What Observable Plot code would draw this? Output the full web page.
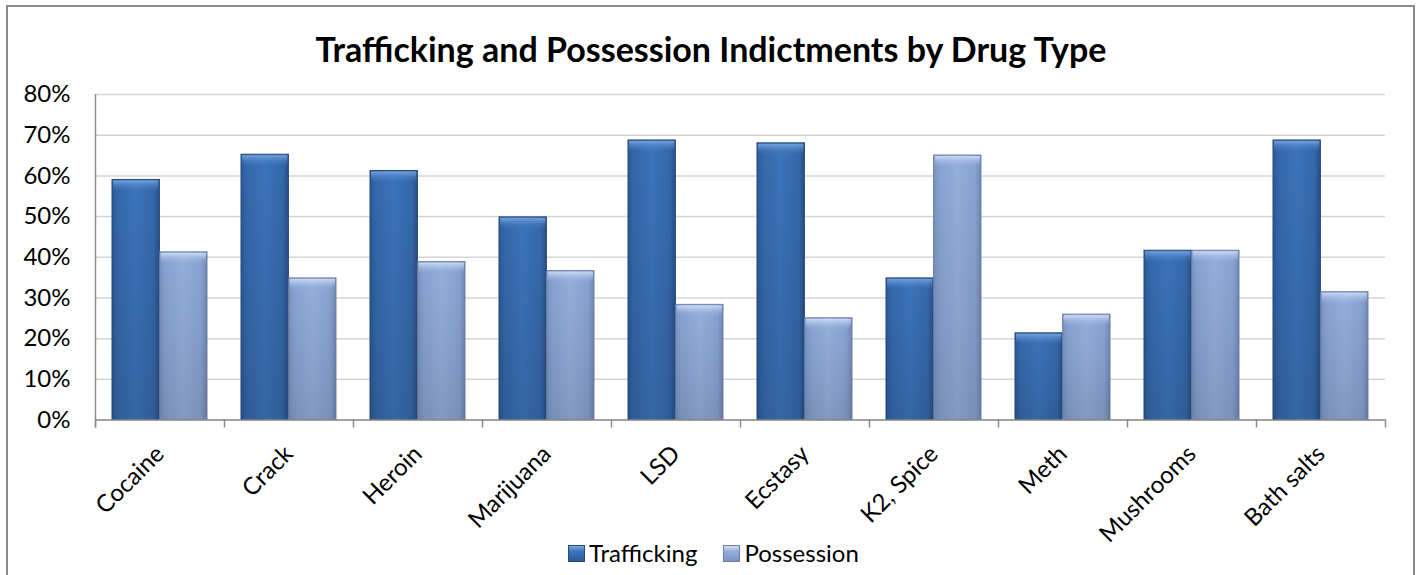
<!DOCTYPE html>
<html>
<head>
<meta charset="utf-8">
<script src="https://cdn.jsdelivr.net/npm/d3@7"></script>
<script src="https://cdn.jsdelivr.net/npm/@observablehq/plot@0.6"></script>
<style>
  body { margin: 0; background: #fff; font-family: Lato, "Open Sans", sans-serif; }
  #wrap { position: relative; width: 1422px; height: 575px; overflow: hidden; background: #fff; }
  #border { position: absolute; left: 6px; top: 5px; width: 1409px; height: 640px; border: 2px solid #8a8a8a; box-sizing: border-box; }
  #chart { position: absolute; left: 0; top: 0; }
  #title { position: absolute; left: 0; top: 32px; width: 1422px; text-align: center; font-weight: bold; font-size: 34px; line-height: 34px; color: #000; }
  #legend { position: absolute; left: 568px; top: 541px; height: 24px; display: flex; align-items: center; font-size: 24px; line-height: 24px; color: #000; }
  .item { display: flex; align-items: center; }
  .item + .item { margin-left: 26px; }
  .sw { width: 17px; height: 17px; margin-right: 4px; box-sizing: border-box; }
</style>
</head>
<body>
<div id="wrap">
  <div id="border"></div>
  <div id="chart"></div>
  <div id="title"></div>
  <div id="legend"></div>
</div>
<script>
// ---- data ----
const categories = ["Cocaine", "Crack", "Heroin", "Marijuana", "LSD", "Ecstasy", "K2, Spice", "Meth", "Mushrooms", "Bath salts"];
const trafficking = [0.590, 0.652, 0.612, 0.498, 0.687, 0.680, 0.348, 0.213, 0.416, 0.687];
const possession  = [0.412, 0.348, 0.388, 0.366, 0.283, 0.250, 0.650, 0.259, 0.416, 0.314];
const seriesNames = ["Trafficking", "Possession"];
const yTicks = [0, 0.1, 0.2, 0.3, 0.4, 0.5, 0.6, 0.7, 0.8];
const titleText = "Trafficking and Possession Indictments by Drug Type";

// ---- layout ----
const W = 1422, H = 575;
const mL = 95, mR = 37, mT = 94, mB = 155.5;
const padInner = 0.262, padOuter = 0.131;
const step = (W - mL - mR) / (categories.length - padInner + 2 * padOuter);
const bandW = step * (1 - padInner);
const half = bandW / 2;

const rows = categories.map((c, i) => ({cat: c, t: trafficking[i], p: possession[i]}));

const defs = () => {
  const d = d3.create("svg:defs");
  const grad = (id, stops, vertical) => {
    const g = d.append("linearGradient").attr("id", id)
      .attr("x1", 0).attr("y1", 0).attr("x2", vertical ? 0 : 1).attr("y2", vertical ? 1 : 0);
    stops.forEach(([o, c, op]) => g.append("stop").attr("offset", o).attr("stop-color", c).attr("stop-opacity", op ?? 1));
  };
  grad("gT", [[0, "#2b5a99"], [0.12, "#3568ab"], [0.5, "#3c74bc"], [0.88, "#3568ab"], [1, "#26518c"]]);
  grad("gP", [[0, "#7b93c0"], [0.12, "#88a2d2"], [0.5, "#95afdc"], [0.88, "#88a2d2"], [1, "#7189b5"]]);
  grad("bT", [[0, "#7aa8e2", 0.9], [1, "#3c74bc", 0]], true);
  grad("bP", [[0, "#d2e0f7", 0.9], [1, "#95afdc", 0]], true);
  grad("shade", [[0, "#000", 0], [1, "#000", 0.12]], true);
  return d.node();
};

const axisGray = "#8c8c8c";
const plot = Plot.plot({
  width: W,
  height: H,
  marginLeft: mL,
  marginRight: mR,
  marginTop: mT,
  marginBottom: mB,
  style: {fontFamily: "Lato, 'Open Sans', sans-serif", fontSize: "24px", color: "#000", background: "transparent"},
  x: {domain: categories, paddingInner: padInner, paddingOuter: padOuter, label: null},
  y: {domain: [0, 0.8], label: null},
  marks: [
    defs,
    Plot.gridY(yTicks, {stroke: "#d4d4d4", strokeOpacity: 1, strokeWidth: 1.5}),
    // bars
    Plot.barY(rows, {x: "cat", y: "t", fill: "url(#gT)", stroke: "#25497a", strokeWidth: 1, insetRight: half}),
    Plot.barY(rows, {x: "cat", y: "p", fill: "url(#gP)", stroke: "#6c80a6", strokeWidth: 1, insetLeft: half}),
    Plot.barY(rows, {x: "cat", y: "t", fill: "url(#shade)", insetRight: half}),
    Plot.barY(rows, {x: "cat", y: "p", fill: "url(#shade)", insetLeft: half}),
    // top bevels
    Plot.barY(rows, {x: "cat", y1: "t", y2: "t", insetBottom: -12, insetTop: 1, fill: "url(#bT)", insetRight: half + 1, insetLeft: 1}),
    Plot.barY(rows, {x: "cat", y1: "p", y2: "p", insetBottom: -12, insetTop: 1, fill: "url(#bP)", insetLeft: half + 1, insetRight: 1}),
    // axis lines and boundary ticks
    Plot.ruleY([0], {stroke: axisGray, strokeWidth: 1.5}),
    Plot.ruleX(categories, {x: d => d, y1: 0, y2: 0, insetBottom: -8, dx: -step / 2, stroke: axisGray, strokeWidth: 1.5}),
    Plot.ruleX(categories.slice(-1), {x: d => d, y1: 0, y2: 0, insetBottom: -8, dx: step / 2, stroke: axisGray, strokeWidth: 1.5}),
    Plot.ruleX(categories.slice(0, 1), {x: d => d, y1: 0.8, y2: 0, insetBottom: -8, dx: -step / 2, stroke: axisGray, strokeWidth: 1.5}),
    Plot.axisY(yTicks, {tickFormat: d3.format(".0%"), tickSize: 0, tickPadding: 25, fontSize: 24, label: null}),
    Plot.axisX({tickSize: 0, tickPadding: 30, tickRotate: -45, fontSize: 24, label: null})
  ]
});
document.getElementById("chart").appendChild(plot);

document.getElementById("title").textContent = titleText;

const legend = d3.select("#legend");
const swatch = [
  "linear-gradient(to bottom, #7aa8e2 0%, #3c74bc 35%, #2b5a99 100%)",
  "linear-gradient(to bottom, #d2e0f7 0%, #95afdc 35%, #7b93c0 100%)"
];
const swBorder = ["#25497a", "#6c80a6"];
seriesNames.forEach((s, i) => {
  const it = legend.append("div").attr("class", "item");
  it.append("div").attr("class", "sw").style("background", swatch[i]).style("border", "1px solid " + swBorder[i]);
  it.append("span").text(s);
});
</script>
</body>
</html>
